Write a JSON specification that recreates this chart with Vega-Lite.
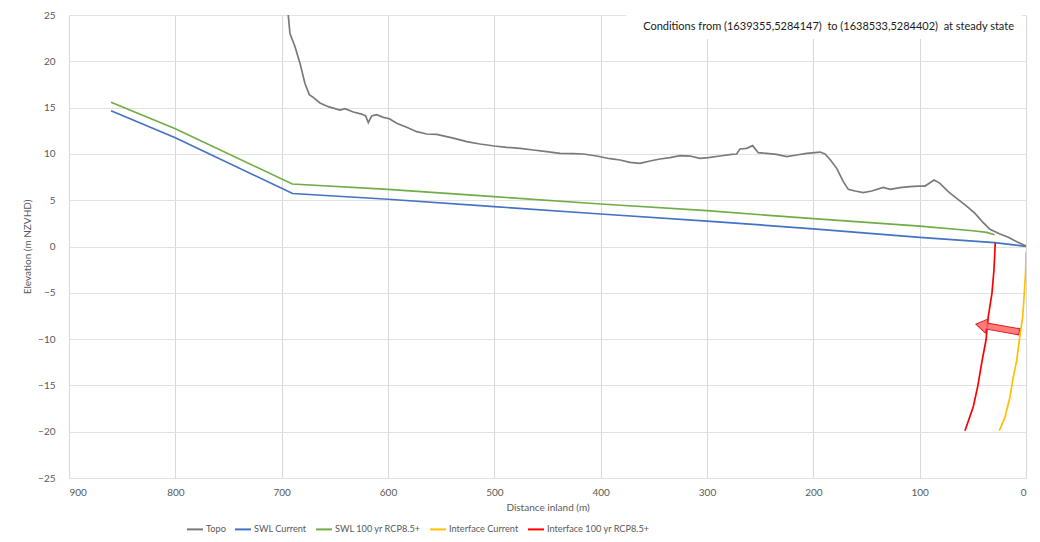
{
  "$schema": "https://vega.github.io/schema/vega-lite/v6.json",
  "width": 957,
  "height": 463,
  "autosize": {"type": "none"},
  "padding": {"left": 69, "top": 15, "right": 14, "bottom": 64},
  "background": "#ffffff",
  "config": {
    "font": "Lato",
    "view": {"stroke": null},
    "axis": {
      "domain": false,
      "ticks": false,
      "gridColor": "#dcdcdc",
      "gridWidth": 1,
      "labelColor": "#595959",
      "labelFont": "Lato",
      "labelFontSize": 10,
      "titleColor": "#595959",
      "titleFont": "Lato",
      "titleFontSize": 10,
      "titleFontWeight": "normal"
    },
    "legend": {
      "labelColor": "#595959",
      "labelFont": "Lato",
      "labelFontSize": 9.2
    }
  },
  "datasets": {
    "profile": [
      {"series": "SWL Current", "d": 860.5, "elev": 14.66},
      {"series": "SWL Current", "d": 800, "elev": 11.75},
      {"series": "SWL Current", "d": 689.7, "elev": 5.72},
      {"series": "SWL Current", "d": 600, "elev": 5.1},
      {"series": "SWL Current", "d": 500, "elev": 4.3},
      {"series": "SWL Current", "d": 400, "elev": 3.51},
      {"series": "SWL Current", "d": 300, "elev": 2.75},
      {"series": "SWL Current", "d": 200, "elev": 1.91},
      {"series": "SWL Current", "d": 100, "elev": 0.99},
      {"series": "SWL Current", "d": 29.5, "elev": 0.41},
      {"series": "SWL Current", "d": 0, "elev": 0.02},

      {"series": "SWL 100 yr RCP8.5+", "d": 860.5, "elev": 15.57},
      {"series": "SWL 100 yr RCP8.5+", "d": 800, "elev": 12.72},
      {"series": "SWL 100 yr RCP8.5+", "d": 690, "elev": 6.75},
      {"series": "SWL 100 yr RCP8.5+", "d": 600, "elev": 6.17},
      {"series": "SWL 100 yr RCP8.5+", "d": 500, "elev": 5.38},
      {"series": "SWL 100 yr RCP8.5+", "d": 400, "elev": 4.59},
      {"series": "SWL 100 yr RCP8.5+", "d": 300, "elev": 3.87},
      {"series": "SWL 100 yr RCP8.5+", "d": 200, "elev": 3.0},
      {"series": "SWL 100 yr RCP8.5+", "d": 100, "elev": 2.21},
      {"series": "SWL 100 yr RCP8.5+", "d": 50, "elev": 1.7},
      {"series": "SWL 100 yr RCP8.5+", "d": 37, "elev": 1.53},
      {"series": "SWL 100 yr RCP8.5+", "d": 29.5, "elev": 1.27},

      {"series": "Interface Current", "d": 0, "elev": -0.56},
      {"series": "Interface Current", "d": 0.3, "elev": -2.5},
      {"series": "Interface Current", "d": 1.6, "elev": -5.05},
      {"series": "Interface Current", "d": 3.1, "elev": -7.6},
      {"series": "Interface Current", "d": 6.3, "elev": -10.1},
      {"series": "Interface Current", "d": 8.7, "elev": -12.3},
      {"series": "Interface Current", "d": 11.9, "elev": -14.06},
      {"series": "Interface Current", "d": 15, "elev": -16.2},
      {"series": "Interface Current", "d": 19.7, "elev": -18.4},
      {"series": "Interface Current", "d": 25.1, "elev": -19.9},

      {"series": "Interface 100 yr RCP8.5+", "d": 28.9, "elev": 0.41},
      {"series": "Interface 100 yr RCP8.5+", "d": 30.1, "elev": -2.5},
      {"series": "Interface 100 yr RCP8.5+", "d": 32, "elev": -5.05},
      {"series": "Interface 100 yr RCP8.5+", "d": 35.5, "elev": -7.6},
      {"series": "Interface 100 yr RCP8.5+", "d": 37.6, "elev": -10.1},
      {"series": "Interface 100 yr RCP8.5+", "d": 41.7, "elev": -12.6},
      {"series": "Interface 100 yr RCP8.5+", "d": 45.4, "elev": -15.1},
      {"series": "Interface 100 yr RCP8.5+", "d": 49.6, "elev": -17.3},
      {"series": "Interface 100 yr RCP8.5+", "d": 57.4, "elev": -19.9},

      {"series": "Topo", "d": 693.8, "elev": 25.0},
      {"series": "Topo", "d": 692.2, "elev": 23.0},
      {"series": "Topo", "d": 687.5, "elev": 21.6},
      {"series": "Topo", "d": 682.8, "elev": 19.8},
      {"series": "Topo", "d": 678.1, "elev": 17.6},
      {"series": "Topo", "d": 674.0, "elev": 16.4},
      {"series": "Topo", "d": 670.3, "elev": 16.1},
      {"series": "Topo", "d": 664.0, "elev": 15.5},
      {"series": "Topo", "d": 656.2, "elev": 15.1},
      {"series": "Topo", "d": 645.2, "elev": 14.74},
      {"series": "Topo", "d": 640.5, "elev": 14.88},
      {"series": "Topo", "d": 632.6, "elev": 14.52},
      {"series": "Topo", "d": 624.8, "elev": 14.3},
      {"series": "Topo", "d": 621.0, "elev": 14.1},
      {"series": "Topo", "d": 618.5, "elev": 13.37},
      {"series": "Topo", "d": 615.4, "elev": 14.1},
      {"series": "Topo", "d": 610.7, "elev": 14.23},
      {"series": "Topo", "d": 604.4, "elev": 13.95},
      {"series": "Topo", "d": 598.7, "elev": 13.8},
      {"series": "Topo", "d": 591.8, "elev": 13.3},
      {"series": "Topo", "d": 582.4, "elev": 12.87},
      {"series": "Topo", "d": 573.0, "elev": 12.4},
      {"series": "Topo", "d": 563.6, "elev": 12.15},
      {"series": "Topo", "d": 554.2, "elev": 12.1},
      {"series": "Topo", "d": 538.6, "elev": 11.7},
      {"series": "Topo", "d": 526.0, "elev": 11.32},
      {"series": "Topo", "d": 513.5, "elev": 11.07},
      {"series": "Topo", "d": 500.0, "elev": 10.85},
      {"series": "Topo", "d": 488.4, "elev": 10.71},
      {"series": "Topo", "d": 475.8, "elev": 10.6},
      {"series": "Topo", "d": 463.3, "elev": 10.42},
      {"series": "Topo", "d": 450.8, "elev": 10.24},
      {"series": "Topo", "d": 438.2, "elev": 10.06},
      {"series": "Topo", "d": 425.7, "elev": 10.02},
      {"series": "Topo", "d": 416.3, "elev": 9.99},
      {"series": "Topo", "d": 403.8, "elev": 9.77},
      {"series": "Topo", "d": 391.2, "elev": 9.48},
      {"series": "Topo", "d": 381.8, "elev": 9.34},
      {"series": "Topo", "d": 372.4, "elev": 9.08},
      {"series": "Topo", "d": 363.0, "elev": 8.98},
      {"series": "Topo", "d": 353.6, "elev": 9.23},
      {"series": "Topo", "d": 344.2, "elev": 9.45},
      {"series": "Topo", "d": 334.8, "elev": 9.59},
      {"series": "Topo", "d": 325.4, "elev": 9.81},
      {"series": "Topo", "d": 316.0, "elev": 9.77},
      {"series": "Topo", "d": 306.6, "elev": 9.52},
      {"series": "Topo", "d": 298.8, "elev": 9.59},
      {"series": "Topo", "d": 287.8, "elev": 9.77},
      {"series": "Topo", "d": 276.8, "elev": 9.95},
      {"series": "Topo", "d": 272.1, "elev": 9.99},
      {"series": "Topo", "d": 269.0, "elev": 10.53},
      {"series": "Topo", "d": 262.7, "elev": 10.6},
      {"series": "Topo", "d": 257.1, "elev": 10.89},
      {"series": "Topo", "d": 251.8, "elev": 10.13},
      {"series": "Topo", "d": 243.9, "elev": 10.06},
      {"series": "Topo", "d": 234.5, "elev": 9.95},
      {"series": "Topo", "d": 225.1, "elev": 9.7},
      {"series": "Topo", "d": 215.7, "elev": 9.88},
      {"series": "Topo", "d": 206.3, "elev": 10.06},
      {"series": "Topo", "d": 193.7, "elev": 10.2},
      {"series": "Topo", "d": 189.0, "elev": 9.99},
      {"series": "Topo", "d": 184.3, "elev": 9.4},
      {"series": "Topo", "d": 178.0, "elev": 8.44},
      {"series": "Topo", "d": 171.8, "elev": 7.0},
      {"series": "Topo", "d": 167.1, "elev": 6.17},
      {"series": "Topo", "d": 160.8, "elev": 5.99},
      {"series": "Topo", "d": 153.0, "elev": 5.81},
      {"series": "Topo", "d": 145.1, "elev": 5.99},
      {"series": "Topo", "d": 134.2, "elev": 6.39},
      {"series": "Topo", "d": 127.9, "elev": 6.17},
      {"series": "Topo", "d": 118.5, "elev": 6.35},
      {"series": "Topo", "d": 109.1, "elev": 6.46},
      {"series": "Topo", "d": 101.3, "elev": 6.53},
      {"series": "Topo", "d": 95.0, "elev": 6.53},
      {"series": "Topo", "d": 90.3, "elev": 6.89},
      {"series": "Topo", "d": 86.5, "elev": 7.18},
      {"series": "Topo", "d": 80.9, "elev": 6.82},
      {"series": "Topo", "d": 73.1, "elev": 5.92},
      {"series": "Topo", "d": 65.2, "elev": 5.2},
      {"series": "Topo", "d": 55.8, "elev": 4.37},
      {"series": "Topo", "d": 48.0, "elev": 3.58},
      {"series": "Topo", "d": 40.2, "elev": 2.57},
      {"series": "Topo", "d": 33.9, "elev": 1.86},
      {"series": "Topo", "d": 24.5, "elev": 1.35},
      {"series": "Topo", "d": 16.6, "elev": 0.99},
      {"series": "Topo", "d": 8.7, "elev": 0.52},
      {"series": "Topo", "d": 0.0, "elev": 0.05}
    ],
    "note": [
      {"d_left": 376, "d_right": 4, "top": 25, "bottom": 22.4, "d_text": 11.3, "elev_text": 23.75,
       "label": "Conditions from (1639355,5284147)\u00a0 to (1638533,5284402)\u00a0 at steady state"}
    ],
    "shift": [
      {"d": 26.8, "elev": -8.8}
    ]
  },
  "layer": [
    {
      "data": {"name": "profile"},
      "mark": {"type": "line", "strokeWidth": 1.7, "clip": true},
      "encoding": {
        "x": {
          "field": "d",
          "type": "quantitative",
          "scale": {"domain": [0, 900], "reverse": true, "nice": false},
          "axis": {
            "values": [0, 100, 200, 300, 400, 500, 600, 700, 800, 900],
            "title": "Distance inland (m)",
            "labelPadding": 9,
            "titlePadding": 5,
            "gridColor": "#d9d9d9"
          }
        },
        "y": {
          "field": "elev",
          "type": "quantitative",
          "scale": {"domain": [-25, 25], "nice": false},
          "axis": {
            "values": [-25, -20, -15, -10, -5, 0, 5, 10, 15, 20, 25],
            "title": "Elevation (m NZVHD)",
            "labelPadding": 14,
            "titlePadding": 5,
            "gridColor": "#e2e2e2"
          }
        },
        "color": {
          "field": "series",
          "type": "nominal",
          "scale": {
            "domain": ["Topo", "SWL Current", "SWL 100 yr RCP8.5+", "Interface Current", "Interface 100 yr RCP8.5+"],
            "range": ["#7a7a7a", "#4472c4", "#70ad47", "#ffc000", "#ff0000"]
          },
          "legend": {
            "title": null,
            "orient": "none",
            "direction": "horizontal",
            "legendX": 117,
            "legendY": 505,
            "symbolType": "stroke",
            "symbolSize": 256,
            "symbolStrokeWidth": 2,
            "labelOffset": 2,
            "columnPadding": 5
          }
        }
      }
    },
    {
      "data": {"name": "note"},
      "mark": {"type": "rect", "fill": "#ffffff", "stroke": null},
      "encoding": {
        "x": {"field": "d_left", "type": "quantitative"},
        "x2": {"field": "d_right"},
        "y": {"field": "top", "type": "quantitative"},
        "y2": {"field": "bottom"}
      }
    },
    {
      "data": {"name": "note"},
      "mark": {"type": "text", "align": "right", "baseline": "middle", "font": "Lato", "fontSize": 11, "color": "#1a1a1a"},
      "encoding": {
        "x": {"field": "d_text", "type": "quantitative"},
        "y": {"field": "elev_text", "type": "quantitative"},
        "text": {"field": "label"}
      }
    },
    {
      "data": {"name": "shift"},
      "mark": {
        "type": "point",
        "filled": true,
        "shape": "M -1 0 L -0.5 -0.32 L -0.5 -0.14 L 1 -0.14 L 1 0.14 L -0.5 0.14 L -0.5 0.32 Z",
        "size": 1936,
        "angle": 10,
        "fill": "#ff6666",
        "fillOpacity": 0.85,
        "stroke": "#e02020",
        "strokeWidth": 1,
        "opacity": 1
      },
      "encoding": {
        "x": {"field": "d", "type": "quantitative"},
        "y": {"field": "elev", "type": "quantitative"}
      }
    }
  ]
}
